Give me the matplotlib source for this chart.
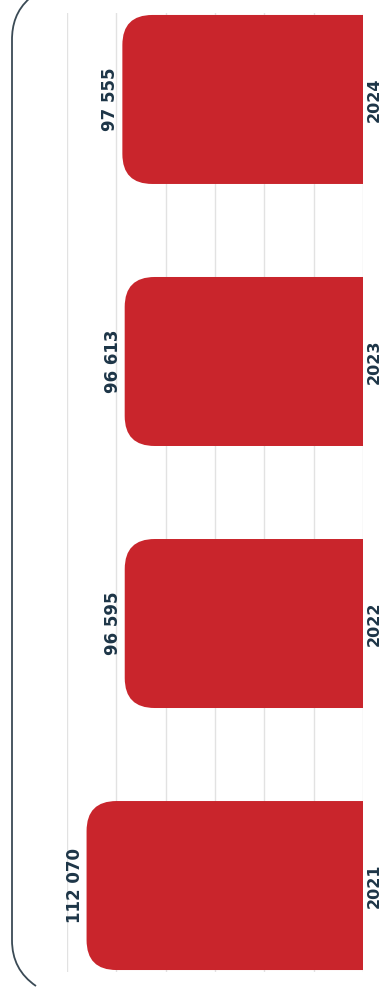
import matplotlib.pyplot as plt
from matplotlib.patches import FancyBboxPatch, PathPatch
from matplotlib.path import Path

# datos
anios = ['2021', '2022', '2023', '2024']
valores = [112070, 96595, 96613, 97555]
etiquetas = ['112 070', '96 595', '96 613', '97 555']

W, H = 383, 994
fig = plt.figure(figsize=(W / 100, H / 100), dpi=100)

# ejes en pixeles (girado: barras crecen hacia la izquierda)
izq, der, arriba, abajo = 67, 363, 13, 972
ax = fig.add_axes([izq / W, 1 - abajo / H, (der - izq) / W, (abajo - arriba) / H])
ax.set_xlim(120000, 0)
ax.set_ylim(-0.33, 3.33)
ax.axis('off')

for g in range(0, 120001, 20000):
    ax.axvline(g, color='#e2e2e2', lw=1, zorder=0)

# escala de pixeles a datos
ux = 120000 / (der - izq)
uy = 3.66 / (abajo - arriba)
radio_px = 30
alto = 0.645
for i, v in enumerate(valores):
    r = radio_px * ux
    caja = FancyBboxPatch((0 - 3 * r, i - alto / 2), v + 3 * r, alto,
                          boxstyle=f'round,pad=0,rounding_size={r}',
                          mutation_aspect=uy / ux,
                          fc='#c9252c', ec='none', zorder=2, clip_on=True)
    ax.add_patch(caja)
    ax.text(v + 3 * ux, i, etiquetas[i], rotation=90, ha='right', va='center',
            fontsize=12, fontweight='bold', color='#1d3547')
    ax.text(-4 * ux, i, anios[i], rotation=90, ha='left', va='center',
            fontsize=11.5, fontweight='bold', color='#1d3547', clip_on=False)

# marco redondeado (solo el borde izquierdo queda dentro de la imagen)
pts = [(30, -2), (16, 10), (12, 25), (12, 40),
       (12, 940),
       (12, 960), (20, 975), (36, 986)]
pts_fig = [(x / W, 1 - y / H) for x, y in pts]
codes = [Path.MOVETO, Path.CURVE4, Path.CURVE4, Path.CURVE4,
         Path.LINETO,
         Path.CURVE4, Path.CURVE4, Path.CURVE4]
marco = PathPatch(Path(pts_fig, codes), fc='none', ec='#3a4a55', lw=1.3,
                  transform=fig.transFigure)
fig.patches.append(marco)

fig.savefig('out.png', dpi=100)
